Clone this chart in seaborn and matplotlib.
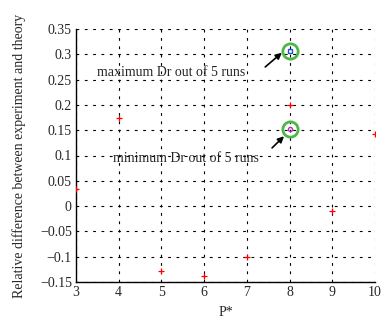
import numpy as np
import pandas as pd
import matplotlib
matplotlib.use("Agg")
import matplotlib.pyplot as plt
import seaborn as sns

# -----------------------------
# Data
# -----------------------------
p_star = [3, 4, 5, 6, 7, 8, 9, 10]
rel_diff = [0.034, 0.175, -0.128, -0.138, -0.100, 0.200, -0.009, 0.143]

max_p, max_dr = 8, 0.307
min_p, min_dr = 8, 0.152

x_ticks = [3, 4, 5, 6, 7, 8, 9, 10]
y_ticks = [-0.15, -0.1, -0.05, 0, 0.05, 0.1, 0.15, 0.2, 0.25, 0.3, 0.35]
y_tick_labels = ["\u22120.15", "\u22120.1", "\u22120.05", "0", "0.05", "0.1",
                 "0.15", "0.2", "0.25", "0.3", "0.35"]

df = pd.DataFrame({"P": p_star, "Dr": rel_diff})

# -----------------------------
# Plot
# -----------------------------
sns.set_style("white")
plt.rcParams["font.family"] = ["Liberation Serif", "DejaVu Serif"]

fig = plt.figure(figsize=(3.81, 3.21), dpi=100)
ax = fig.add_axes([76 / 381, 1 - 282 / 321, 299 / 381, 253 / 321])

sns.scatterplot(data=df, x="P", y="Dr", marker="+", color="red",
                s=20, linewidth=0.9, ax=ax, zorder=3)

# extreme runs
ax.plot([max_p], [max_dr], marker="s", ms=3, mfc="none", mec="#1f4fd0", mew=1, zorder=4)
ax.plot([min_p], [min_dr], marker="o", ms=3, mfc="none", mec="#b030b0", mew=1, zorder=4)
for yy in (max_dr, min_dr):
    ax.plot([max_p], [yy], marker="o", ms=11, mfc="none", mec="#4cb848", mew=2, zorder=4)

ax.annotate("", xy=(7.82, 0.303), xytext=(7.43, 0.275),
            arrowprops=dict(arrowstyle="-|>", color="black", lw=1.2,
                            mutation_scale=9, shrinkA=0, shrinkB=0))
ax.annotate("", xy=(7.87, 0.138), xytext=(7.59, 0.115),
            arrowprops=dict(arrowstyle="-|>", color="black", lw=1.2,
                            mutation_scale=9, shrinkA=0, shrinkB=0))

ax.text(3.49, 0.265, "maximum Dr out of 5 runs", fontsize=10, va="center", ha="left")
ax.text(3.87, 0.095, "minimum Dr out of 5 runs", fontsize=10, va="center", ha="left")

ax.set_xlim(3, 10)
ax.set_ylim(-0.15, 0.35)
ax.set_xticks(x_ticks)
ax.set_yticks(y_ticks)
ax.set_yticklabels(y_tick_labels)
ax.tick_params(direction="in", length=3, width=0.8, labelsize=10, pad=3,
               top=False, right=False)

ax.grid(True, color="black", linestyle=(0, (2.5, 5)), linewidth=0.8)
for side in ("top", "right"):
    ax.spines[side].set_visible(False)
for side in ("left", "bottom"):
    ax.spines[side].set_color("black")
    ax.spines[side].set_linewidth(1.0)

ax.set_xlabel("P*", fontsize=10, labelpad=5)
ax.set_ylabel("Relative difference between experiment and theory", fontsize=10, labelpad=10)

fig.savefig("out.png", dpi=100)
